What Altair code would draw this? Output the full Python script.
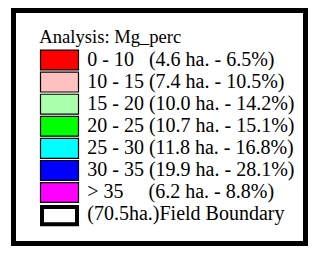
import altair as alt
import pandas as pd

title_text = "Analysis: Mg_perc"
NB = "\u00a0"
ranges = ["0 - 10", "10 - 15", "15 - 20", "20 - 25", "25 - 30", "30 - 35", "> 35"]
gaps = [3, 1, 1, 1, 1, 1, 5]
areas = ["4.6", "7.4", "10.0", "10.7", "11.8", "19.9", "6.2"]
percents = ["6.5", "10.5", "14.2", "15.1", "16.8", "28.1", "8.8"]
colors = ["#FF0000", "#FFC0C0", "#AAFFAA", "#00FF00", "#00FFFF", "#0000FF", "#FF00FF"]
boundary_label = NB + "(70.5ha.)Field Boundary"

labels = [r + NB * g + f"({a} ha. - {p}%)" for r, g, a, p in zip(ranges, gaps, areas, percents)]
rows = pd.DataFrame({"i": list(range(len(ranges))), "label": labels, "color": colors})
text_rows = pd.DataFrame({"i": list(range(len(ranges) + 1)), "label": labels + [boundary_label]})
boundary = pd.DataFrame({"i": [len(ranges)]})

yscale = alt.Scale(domain=[0, 7], range=[52, 206.6])
FONT = "Liberation Serif"

frame = alt.Chart(pd.DataFrame({"d": [0]})).mark_rect(
    fill="white", stroke="black", strokeWidth=5
).encode(x=alt.value(5.5), x2=alt.value(297.5), y=alt.value(2.5), y2=alt.value(235.5))

title = alt.Chart(pd.DataFrame({"t": [title_text]})).mark_text(
    font=FONT, fontSize=18.6, align="left", baseline="alphabetic", color="black"
).encode(x=alt.value(31.3), y=alt.value(35), text="t:N")

swatches = alt.Chart(rows).transform_calculate(
    top="datum.i - 0.45", bot="datum.i + 0.45"
).mark_rect(stroke="black", strokeWidth=1.2).encode(
    x=alt.value(32.5), x2=alt.value(70.5),
    y=alt.Y("top:Q", scale=yscale, axis=None), y2="bot:Q",
    fill=alt.Color("color:N", scale=None, legend=None),
)

bbox = alt.Chart(boundary).transform_calculate(
    top="datum.i - 0.44", bot="datum.i + 0.44"
).mark_rect(fill="white", stroke="black", strokeWidth=4).encode(
    x=alt.value(34), x2=alt.value(69),
    y=alt.Y("top:Q", scale=yscale, axis=None), y2="bot:Q", yOffset=alt.value(2),
)

texts = alt.Chart(text_rows).mark_text(
    font=FONT, fontSize=20, align="left", baseline="alphabetic", dy=5.7, color="black"
).encode(x=alt.value(79.3), y=alt.Y("i:Q", scale=yscale, axis=None), text="label:N")

chart = alt.layer(frame, title, swatches, bbox, texts).properties(
    width=300, height=238, autosize=alt.AutoSizeParams(type="none"), padding=0
).configure_view(stroke=None)

chart.save("out.html", embed_options={"renderer": "svg", "actions": False})
